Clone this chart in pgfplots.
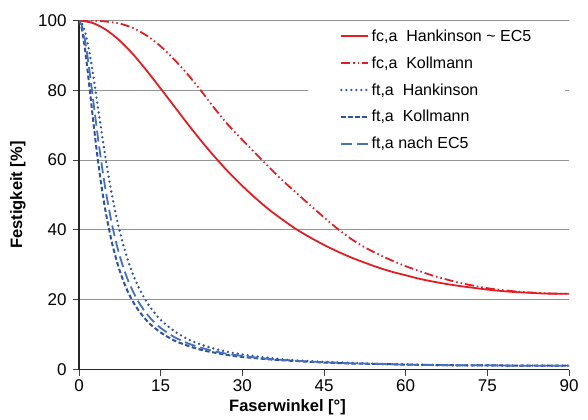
\documentclass[border=0pt]{standalone}
\usepackage{fontspec}
\setmainfont{Liberation Sans}
\usepackage{pgfplots}
\pgfplotsset{compat=1.18}
\definecolor{fcred}{RGB}{226,30,36}
\definecolor{ftblue}{RGB}{45,82,160}
\definecolor{ftblue2}{RGB}{70,112,190}
\begin{document}
\begin{tikzpicture}
\begin{axis}[
  scale only axis, width=490pt, height=349pt,
  xmin=0, xmax=90, ymin=0, ymax=100,
  xtick={0,15,...,90}, ytick={0,20,...,100},
  axis lines=left, axis line style={-, black!85, line width=1.1pt},
  tick style={black!75, line width=0.9pt}, tick align=outside,
  major tick length=6pt,
  ymajorgrids, grid style={gray!85, line width=1pt},
  ticklabel style={font=\fontsize{17}{20}\selectfont},
  yticklabel style={xshift=-3pt},
  xticklabel style={yshift=-1pt},
  /pgf/number format/assume math mode=true,
  xlabel={Faserwinkel [°]}, ylabel={Festigkeit [\%]},
  label style={font=\bfseries\fontsize{16.5}{20}\selectfont},
  xlabel style={at={(axis description cs:0.4255,0)}, anchor=north, yshift=-27pt},
  ylabel style={at={(axis description cs:-0.1245,0.5)}, anchor=center},
  legend style={at={(axis description cs:0.467,1)}, anchor=north west, yshift=-2pt,
    draw=none, fill=white, inner xsep=32pt, inner ysep=5pt, row sep=9.8pt,
    font=\fontsize{16}{19}\selectfont},
  legend cell align=left,
  legend image code/.code={\draw[#1] (0pt,0pt) -- (27pt,0pt);},
]
% fc,a Hankinson ~ EC5
\addplot[fcred, line width=1.8pt, smooth] coordinates {
(0,100) (2.5,99.3) (5,97.3) (7.5,94.2) (10,90.2) (12.5,85.5) (15,80.5) (17.5,75.4)
(20,70.3) (22.5,65.4) (25,60.8) (27.5,56.5) (30,52.6) (32.5,49.0) (35,45.7) (37.5,42.8)
(40,40.1) (42.5,37.8) (45,35.7) (47.5,33.8) (50,32.1) (52.5,30.6) (55,29.2) (57.5,28.0)
(60,27.0) (62.5,26.0) (65,25.2) (67.5,24.5) (70,23.9) (72.5,23.4) (75,22.9) (77.5,22.5)
(80,22.2) (82.5,22.0) (85,21.8) (87.5,21.7) (90,21.7)};
\addlegendentry{fc,a\ \ Hankinson \textasciitilde\ EC5}
% fc,a Kollmann
\addplot[fcred, line width=1.8pt, smooth,
  dash pattern=on 9pt off 3pt on 1.5pt off 3pt on 1.5pt off 3pt] coordinates {
(0,100) (2.5,99.95) (5,99.7) (7.5,99.1) (10,97.8) (12.5,95.6) (15,92.6) (17.5,88.8)
(20,84.5) (22.5,79.7) (25,74.6) (27.5,69.9) (30,65.8) (32.5,61.8) (35,57.8) (37.5,54.0)
(40,50.5) (42.5,47.0) (45,43.6) (47.5,40.3) (50,37.4) (52.5,35.0) (55,33.0) (57.5,31.2)
(60,29.6) (62.5,28.2) (65,26.9) (67.5,25.8) (70,24.8) (72.5,24.0) (75,23.3) (77.5,22.8)
(80,22.4) (82.5,22.1) (85,21.9) (87.5,21.75) (90,21.7)};
\addlegendentry{fc,a\ \ Kollmann}
% ft,a Hankinson
\addplot[ftblue, line width=2.6pt, line cap=round, dash pattern=on 0pt off 5pt, smooth] coordinates {
(0,100) (0.5,99.3) (1,97.3) (1.5,94.2) (2,90.1) (2.5,85.4) (3,80.2) (3.5,74.9) (4,69.6)
(4.5,64.4) (5,59.4) (6,50.4) (7,42.8) (8,36.5) (9,31.2) (10,26.9) (11,23.4) (12,20.5)
(13,18.0) (14,16.0) (15,14.2) (17.5,11.0) (20,8.7) (22.5,7.1) (25,5.9) (27.5,5.0)
(30,4.3) (35,3.3) (40,2.6) (45,2.2) (50,1.9) (55,1.6) (60,1.5) (65,1.3) (70,1.2)
(75,1.2) (80,1.1) (85,1.1) (90,1.1)};
\addlegendentry{ft,a\ \ Hankinson}
% ft,a Kollmann
\addplot[ftblue, line width=2pt, dash pattern=on 4.5pt off 2.5pt, smooth] coordinates {
(0,100) (0.5,97.8) (1,93.0) (1.5,86.7) (2,79.8) (2.5,72.8) (3,66.0) (3.5,59.7) (4,54.0)
(4.5,48.9) (5,44.3) (6,36.7) (7,30.7) (8,26.0) (9,22.2) (10,19.2) (11,16.8) (12,14.8)
(13,13.1) (14,11.8) (15,10.6) (17.5,8.3) (20,6.8) (22.5,5.6) (25,4.8) (27.5,4.1)
(30,3.6) (35,2.9) (40,2.4) (45,2.0) (50,1.7) (55,1.6) (60,1.4) (65,1.3) (70,1.2)
(75,1.2) (80,1.1) (85,1.1) (90,1.1)};
\addlegendentry{ft,a\ \ Kollmann}
% ft,a nach EC5
\addplot[ftblue2, line width=1.8pt, dash pattern=on 11pt off 5pt, smooth] coordinates {
(0,100) (0.5,98.6) (1,95.2) (1.5,90.4) (2,84.7) (2.5,78.5) (3,72.3) (3.5,66.2) (4,60.5)
(4.5,55.2) (5,50.4) (6,42.0) (7,35.3) (8,29.9) (9,25.6) (10,22.1) (11,19.2) (12,16.9)
(13,14.9) (14,13.3) (15,11.9) (17.5,9.3) (20,7.5) (22.5,6.2) (25,5.2) (27.5,4.4)
(30,3.9) (35,3.0) (40,2.5) (45,2.1) (50,1.8) (55,1.6) (60,1.4) (65,1.3) (70,1.2)
(75,1.2) (80,1.1) (85,1.1) (90,1.1)};
\addlegendentry{ft,a nach EC5}
\end{axis}
\pgfresetboundingbox
\useasboundingbox ([shift={(-79pt,-49.5pt)}]current axis.south west)
  rectangle ([shift={(19pt,20.5pt)}]current axis.north east);
\end{tikzpicture}
\end{document}
